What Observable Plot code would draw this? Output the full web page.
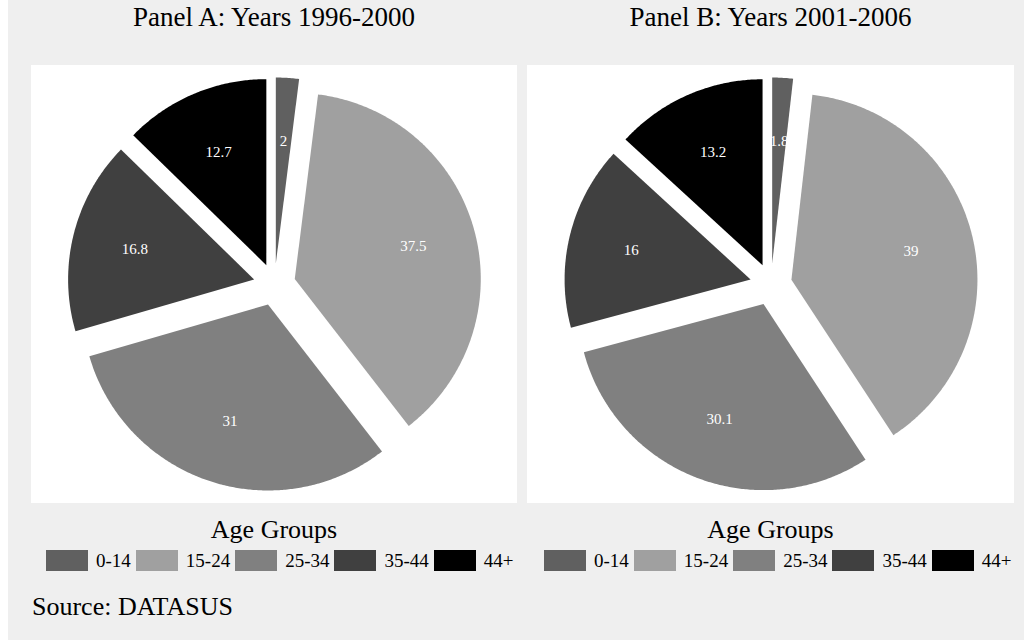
<!DOCTYPE html>
<html>
<head>
<meta charset="utf-8">
<script src="https://cdn.jsdelivr.net/npm/d3@7"></script>
<script src="https://cdn.jsdelivr.net/npm/@observablehq/plot@0.6"></script>
<style>
  html, body { margin: 0; padding: 0; background: #ffffff; }
  #page { position: absolute; left: 8px; top: 0; width: 1016px; height: 640px; background: #efefef;
          font-family: "Liberation Serif", "Times New Roman", serif; color: #000; }
  .abs { position: absolute; }
  .title { font-size: 27px; line-height: 27px; text-align: center; white-space: nowrap; }
  .ltitle { font-size: 26px; line-height: 26px; text-align: center; white-space: nowrap; }
  .legend { display: flex; align-items: center; height: 21px; white-space: nowrap; }
  .sw { width: 42px; height: 21px; flex: none; }
  .lab { font-size: 19px; line-height: 21px; margin-left: 8px; margin-right: 5px; }
  .caption { font-size: 26px; line-height: 26px; white-space: nowrap; }
</style>
</head>
<body>
<div id="page"></div>
<script>
// ---- data ----
const ageGroups = ["0-14", "15-24", "25-34", "35-44", "44+"];
const panelAValues = [2, 37.5, 31, 16.8, 12.7];
const panelBValues = [1.8, 39, 30.1, 16, 13.2];
const panelTitles = ["Panel A: Years 1996-2000", "Panel B: Years 2001-2006"];
const groupColors = ["#606060", "#a0a0a0", "#808080", "#404040", "#000000"];
const legendTitle = "Age Groups";
const captionText = "Source: DATASUS";

// ---- layout (page coords, page div starts at x=8) ----
const OFF = 8;
const panels = [
  {values: panelAValues, title: panelTitles[0], left: 31, width: 486, legendLeft: 46},
  {values: panelBValues, title: panelTitles[1], left: 527, width: 487, legendLeft: 544}
];
const PLOT_TOP = 65, H = 438, R = 186, EXPLODE = 21, LABELR = 144;

const page = document.getElementById("page");

function pieGeometry(values) {
  const total = d3.sum(values);
  const polys = [], labels = [];
  let cum = 0;
  values.forEach((v, i) => {
    const a0 = cum / total * 2 * Math.PI;
    cum += v;
    const a1 = cum / total * 2 * Math.PI;
    const mid = (a0 + a1) / 2;
    const tx = EXPLODE / R * Math.sin(mid), ty = EXPLODE / R * Math.cos(mid);
    polys.push({x: tx, y: ty, group: ageGroups[i]});
    const n = Math.max(2, Math.ceil((a1 - a0) / (Math.PI / 360)));
    for (let k = 0; k <= n; k++) {
      const a = a0 + (a1 - a0) * k / n;
      polys.push({x: tx + Math.sin(a), y: ty + Math.cos(a), group: ageGroups[i]});
    }
    polys.push({x: tx, y: ty, group: ageGroups[i]});
    labels.push({x: LABELR / R * Math.sin(mid), y: LABELR / R * Math.cos(mid), text: String(v)});
  });
  return {polys, labels};
}

panels.forEach(p => {
  const {polys, labels} = pieGeometry(p.values);
  const xr = (p.width / 2) / R, yr = (H / 2) / R;
  const chart = Plot.plot({
    width: p.width,
    height: H,
    margin: 0,
    x: {domain: [-xr, xr], axis: null},
    y: {domain: [-yr, yr], axis: null},
    color: {domain: ageGroups, range: groupColors},
    style: {background: "#ffffff", fontFamily: "'Liberation Serif', 'Times New Roman', serif", overflow: "visible"},
    marks: [
      Plot.line(polys, {x: "x", y: "y", z: "group", fill: "group", stroke: "none"}),
      Plot.text(labels, {x: "x", y: "y", text: "text", fill: "white", fontSize: 15})
    ]
  });
  chart.classList.add("abs");
  chart.style.left = (p.left - OFF) + "px";
  chart.style.top = PLOT_TOP + "px";
  page.appendChild(chart);

  const cx = p.left + p.width / 2 - OFF;
  const t = document.createElement("div");
  t.className = "abs title";
  t.textContent = p.title;
  t.style.left = (cx - 200) + "px";
  t.style.width = "400px";
  t.style.top = "4px";
  page.appendChild(t);

  const lt = document.createElement("div");
  lt.className = "abs ltitle";
  lt.textContent = legendTitle;
  lt.style.left = (cx - 150) + "px";
  lt.style.width = "300px";
  lt.style.top = "517px";
  page.appendChild(lt);

  const lg = document.createElement("div");
  lg.className = "abs legend";
  lg.style.left = (p.legendLeft - OFF) + "px";
  lg.style.top = "550px";
  ageGroups.forEach((g, i) => {
    const sw = document.createElement("div");
    sw.className = "sw";
    sw.style.background = groupColors[i];
    const lab = document.createElement("span");
    lab.className = "lab";
    lab.textContent = g;
    lg.appendChild(sw);
    lg.appendChild(lab);
  });
  page.appendChild(lg);
});

const cap = document.createElement("div");
cap.className = "abs caption";
cap.textContent = captionText;
cap.style.left = (32 - OFF) + "px";
cap.style.top = "594px";
page.appendChild(cap);
</script>
</body>
</html>
